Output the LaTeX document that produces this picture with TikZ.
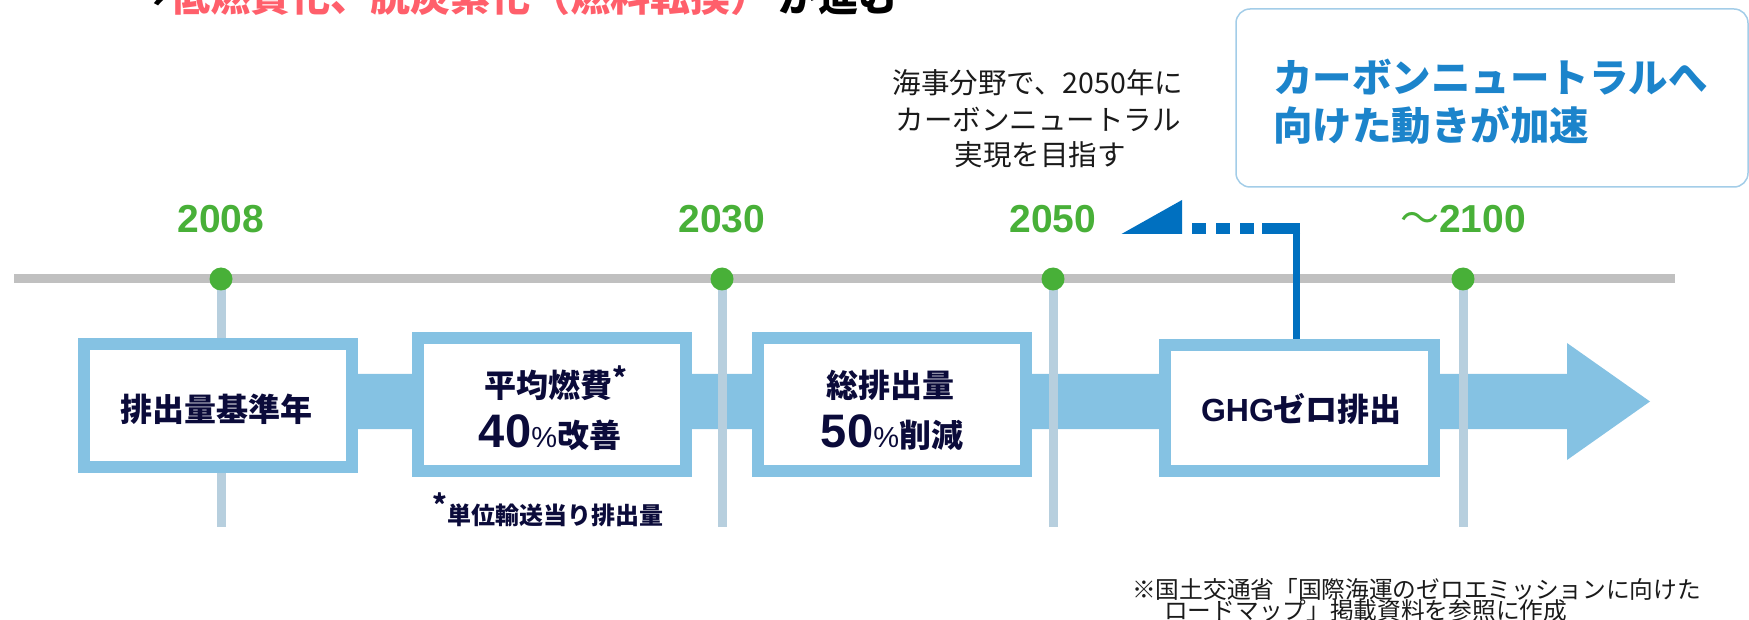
\documentclass[tikz,border=0pt]{standalone}
\usepackage{tikz}
\usepackage{fontspec}
\setmainfont{Noto Sans CJK JP}
\newfontfamily\jp{Noto Sans CJK JP}
\newfontfamily\lib{Liberation Sans}
\newcommand{\myfs}[1]{\fontsize{#1}{#1}\selectfont}
\definecolor{bandc}{HTML}{85C2E3}
\definecolor{vlc}{HTML}{B7CFDE}
\definecolor{tlc}{HTML}{C0C0C0}
\definecolor{grn}{HTML}{48B038}
\definecolor{navy}{HTML}{0B0B3A}
\definecolor{connc}{HTML}{0070C0}
\definecolor{headc}{HTML}{1C84CB}
\definecolor{rboxc}{HTML}{A3CDE8}
\definecolor{redc}{HTML}{FF5F6B}
\definecolor{txtc}{HTML}{1A1A1A}
\pgfdeclarelayer{bg}
\pgfdeclarelayer{mid}
\pgfsetlayers{bg,mid,main}
\begin{document}
\begin{tikzpicture}[x=1pt,y=-1pt,
  box/.style={draw=bandc, line width=12pt, fill=white, inner sep=0pt, outer sep=0pt},
  btxt/.style={text=navy, font=\bfseries\myfs{32}, inner sep=0pt, anchor=base},
  year/.style={text=grn, font=\lib\bfseries\myfs{39}, inner sep=0pt, anchor=base},
  dot/.style={circle, fill=grn, minimum size=23pt, inner sep=0pt},
  vline/.style={draw=vlc, line width=9pt},
  tline/.style={draw=tlc, line width=9pt},
  conn/.style={draw=connc},
  graytxt/.style={text=txtc, font=\myfs{28.5}, inner sep=0pt, anchor=base},
  headtxt/.style={text=headc, font=\bfseries\myfs{39.5}, inner sep=0pt, anchor=base west},
  fntxt/.style={text=txtc, font=\myfs{23.7}, inner sep=0pt, anchor=base west},
  rbox/.style={draw=rboxc, line width=1.5pt, rounded corners=14pt, inner sep=0pt}
]
\useasboundingbox (0,0) rectangle (1749,620);
\clip (0,0) rectangle (1749,620);

% heading (clipped at top)
\node[anchor=base west, inner sep=0pt, font=\bfseries\myfs{40}] (head) at (130,12)
  {→\textcolor{redc}{低燃費化、脱炭素化（燃料転換）}\hspace{8pt}が進む};

% rounded info box
\node[rbox, minimum width=512pt, minimum height=178pt] (hb) at (1492,98) {};
\node[headtxt] (hd1) at (1273,93) {カーボンニュートラルへ};
\node[headtxt] (hd2) at (1273,141) {向けた動きが加速};

% note text
\node[graytxt] (g1) at (1038,94) {海事分野で、2050年に};
\node[graytxt] (g2) at (1038,131) {カーボンニュートラル};
\node[graytxt] (g3) at (1040,166) {実現を目指す};

% timeline
\coordinate (tl) at (14,279);
\coordinate (tr) at (1675,279);
\coordinate (p1) at (221,279);
\coordinate (p2) at (722,279);
\coordinate (p3) at (1053,279);
\coordinate (p4) at (1463,279);
\coordinate (e1) at (221,527);
\coordinate (e2) at (722,527);
\coordinate (e3) at (1053,527);
\coordinate (e4) at (1463,527);
\begin{pgfonlayer}{bg}
  \draw[tline] (tl) -- (tr);
\end{pgfonlayer}
\node[dot] (d1) at (p1) {};
\node[dot] (d2) at (p2) {};
\node[dot] (d3) at (p3) {};
\node[dot] (d4) at (p4) {};

\node[year] (y1) at (221,233) {2008};
\node[year] (y2) at (722,233) {2030};
\node[year] (y3) at (1053,233) {2050};
\node[year] (y4) at (1463,233) {{\jp\mdseries ～}2100};

% boxes
\node[box, minimum width=268pt, minimum height=123pt] (b1) at (218,405.5) {};
\node[box, minimum width=268pt, minimum height=133pt] (b2) at (552,404.5) {};
\node[box, minimum width=268pt, minimum height=133pt] (b3) at (892,404.5) {};
\node[box, minimum width=269pt, minimum height=126pt] (b4) at (1299.5,408) {};

% band with arrowhead, vertical year lines, connector
\begin{pgfonlayer}{mid}
  \fill[bandc] (b1.east |- 0,374) -- (1567,374) -- (1567,343) -- (1650,401.5)
     -- (1567,460) -- (1567,429) -- (b1.east |- 0,429) -- cycle;
  \draw[vline] (d1.center) -- (e1);
  \draw[vline] (d2.center) -- (e2);
  \draw[vline] (d3.center) -- (e3);
  \draw[vline] (d4.center) -- (e4);
  % connector from GHG box
  \coordinate (cc) at (1296.5,228.5);
  \coordinate (ce) at (1300,228.5);
  \coordinate (ds) at (1262,228.5);
  \coordinate (de) at (1192,228.5);
  \coordinate (tip) at (1121.5,234);
  \draw[conn, line width=7pt] (b4.north -| cc) -- (cc);
  \draw[conn, line width=11pt] (ce) -- (ds);
  \draw[conn, line width=11pt, dash pattern=on 14pt off 10pt] (de) -- (ds);
  \fill[connc] (tip) -- (1182,200) -- (1182,234) -- cycle;
\end{pgfonlayer}

% box texts
\node[btxt] (t1) at (216,421) {排出量基準年};
\node[btxt] (t2a) at (556,397) {平均燃費\raisebox{9pt}{\myfs{28}*}};
\node[btxt] (t2b) at (550,447) {{\lib\bfseries\myfs{47}40}{\lib\mdseries\myfs{29}\%}改善};
\node[btxt] (t3a) at (890,397) {総排出量};
\node[btxt] (t3b) at (892,447) {{\lib\bfseries\myfs{47}50}{\lib\mdseries\myfs{29}\%}削減};
\node[btxt] (t4) at (1301.5,421.5) {{\lib GHG}ゼロ排出};

% footnotes
\node[btxt, anchor=base west, font=\bfseries\myfs{24}] (fs) at (432,524)
  {\raisebox{9pt}{\myfs{28}*}単位輸送当り排出量};
\node[fntxt] (fn1) at (1132,598) {※国土交通省「国際海運のゼロエミッションに向けた};
\node[fntxt] (fn2) at (1164,619) {ロードマップ」掲載資料を参照に作成};
\end{tikzpicture}
\end{document}
